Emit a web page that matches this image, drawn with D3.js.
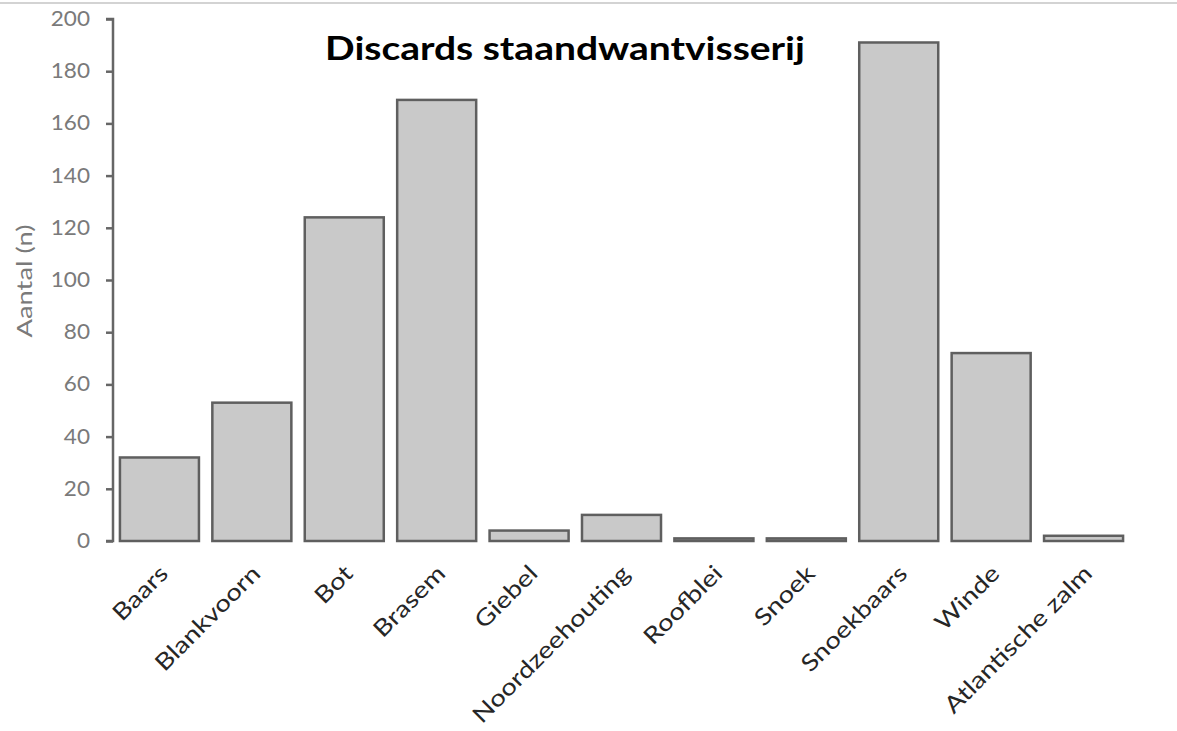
<!DOCTYPE html>
<html>
<head>
<meta charset="utf-8">
<script src="https://cdn.jsdelivr.net/npm/d3@7"></script>
<style>
  html, body { margin: 0; padding: 0; background: #fff; }
  svg { display: block; }
</style>
</head>
<body>
<script>
// Discarded fish per species, gillnet fishery
const categories = ["Baars", "Blankvoorn", "Bot", "Brasem", "Giebel", "Noordzeehouting",
  "Roofblei", "Snoek", "Snoekbaars", "Winde", "Atlantische zalm"];
const counts = [32, 53, 124, 169, 4, 10, 1, 1, 191, 72, 2];
const yTicks = [0, 20, 40, 60, 80, 100, 120, 140, 160, 180, 200];
const titleText = "Discards staandwantvisserij";
const yTitle = "Aantal (n)";

const W = 1177, H = 731;
const margin = { top: 19, right: 47, bottom: 190, left: 113 };
const innerW = W - margin.left - margin.right;
const innerH = H - margin.top - margin.bottom;
const font = "Lato, 'Open Sans', sans-serif";

const svg = d3.select("body").append("svg").attr("width", W).attr("height", H);

// thin frame line along the top edge
svg.append("line").attr("x1", 0).attr("x2", W).attr("y1", 3).attr("y2", 3)
  .attr("stroke", "#c4c4c4").attr("stroke-width", 1.5);

const g = svg.append("g").attr("transform", `translate(${margin.left},${margin.top})`);

const x = d3.scaleBand().domain(categories).range([0, innerW]).paddingInner(0.145).paddingOuter(0.075);
const y = d3.scaleLinear().domain([0, 200]).range([innerH, 0]);

// bars
g.selectAll("rect.bar").data(categories).join("rect")
  .attr("class", "bar")
  .attr("x", d => x(d))
  .attr("width", x.bandwidth())
  .attr("y", (d, i) => y(counts[i]))
  .attr("height", (d, i) => y(0) - y(counts[i]))
  .attr("fill", "#c9c9c9")
  .attr("stroke", "#5f5f5f")
  .attr("stroke-width", 2.5);

// y axis
const yAxis = g.append("g")
  .call(d3.axisLeft(y).tickValues(yTicks).tickSize(7));
yAxis.select(".domain").attr("stroke", "#666").attr("stroke-width", 2.5)
  .attr("d", `M-7,${y(200)}H0V${y(0)}H-7`);
yAxis.selectAll(".tick line").attr("stroke", "#666").attr("stroke-width", 2.5);
yAxis.selectAll(".tick text")
  .attr("x", 0)
  .attr("transform", "translate(-23,0) scale(1.1,1)")
  .attr("fill", "#7a7a7a").style("font-family", font).style("font-size", "20.5px");

// category labels
const xAxis = g.append("g").attr("transform", `translate(0,${innerH})`)
  .call(d3.axisBottom(x).tickSize(0).tickPadding(0));
xAxis.select(".domain").remove();
xAxis.selectAll(".tick text")
  .attr("fill", "#262626")
  .style("font-family", font).style("font-size", "23px")
  .attr("text-anchor", "end")
  .attr("y", 0)
  .attr("dy", 0)
  .attr("transform", "translate(10,34) rotate(-45) scale(1.2,1)");

// y axis title
svg.append("text")
  .attr("transform", `translate(32,${margin.top + innerH / 2 + 1}) rotate(-90) scale(1.3,1)`)
  .attr("text-anchor", "middle")
  .attr("fill", "#7a7a7a")
  .style("font-family", font).style("font-size", "21px")
  .text(yTitle);

// chart title
svg.append("text")
  .attr("transform", "translate(565,60) scale(1.2,1)")
  .attr("text-anchor", "middle")
  .attr("fill", "#000")
  .style("font-family", font).style("font-size", "32.5px").style("font-weight", "bold")
  .text(titleText);
</script>
</body>
</html>
